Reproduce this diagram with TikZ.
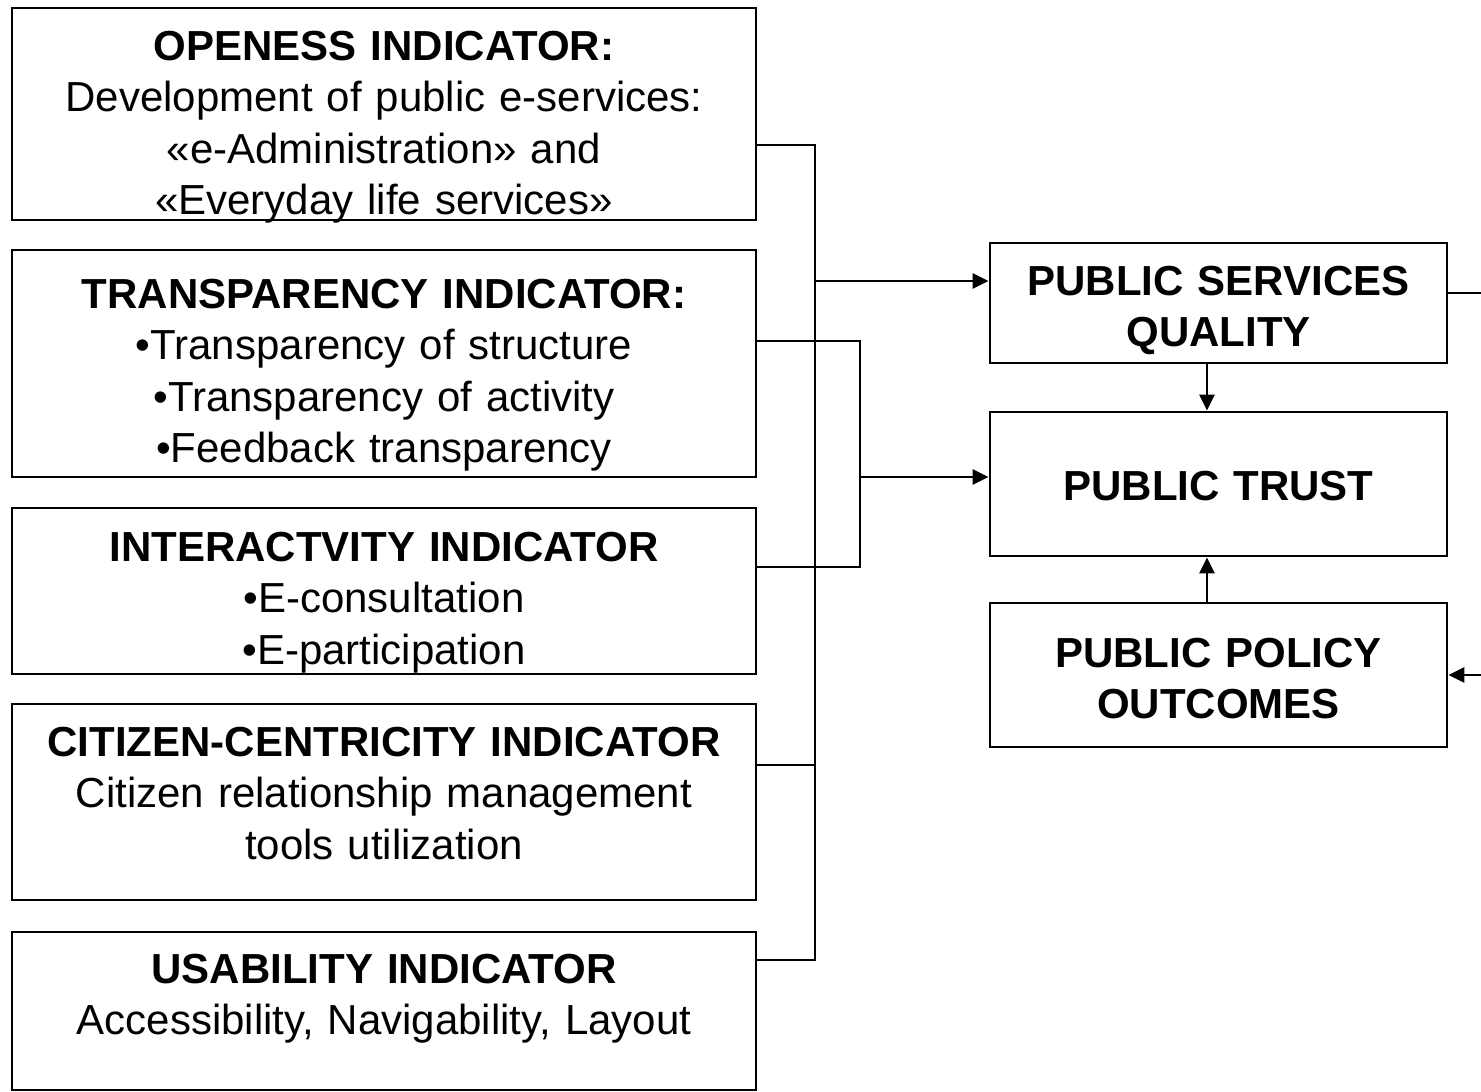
\documentclass[tikz,border=0pt]{standalone}
\usepackage{fontspec}
\setmainfont{Liberation Sans}
\usetikzlibrary{arrows.meta}
\begin{document}
\begin{tikzpicture}[x=1pt,y=-1pt,
  box/.style={draw,line width=2.8pt,inner sep=0pt},
  txt/.style={anchor=base,align=center,text width=740pt,inner sep=0pt,font=\fontsize{42}{51.5}\selectfont},
  rtxt/.style={anchor=base,align=center,text width=450pt,inner sep=0pt,font=\fontsize{42}{51}\selectfont\bfseries},
  wire/.style={line width=2.8pt},
  arr/.style={line width=2.8pt,-{Triangle[length=16pt,width=15pt]}}]
\useasboundingbox (0,0) rectangle (1481,1092);
% left boxes
\node[box,minimum width=744pt,minimum height=212pt] (b1) at (384,114) {};
\node[box,minimum width=744pt,minimum height=227pt] (b2) at (384,363.5) {};
\node[box,minimum width=744pt,minimum height=166pt] (b3) at (384,591) {};
\node[box,minimum width=744pt,minimum height=196pt] (b4) at (384,802) {};
\node[box,minimum width=744pt,minimum height=158pt] (b5) at (384,1011) {};
\node[txt] (t1) at (384,60) {\textbf{OPENESS INDICATOR:}\\Development of public e-services:\\«e-Administration» and\\«Everyday life services»};
\node[txt] (t2) at (384,308) {\textbf{TRANSPARENCY INDICATOR:}\\•Transparency of structure\\•Transparency of activity\\•Feedback transparency};
\node[txt] (t3) at (384,561) {\textbf{INTERACTVITY INDICATOR}\\•E-consultation\\•E-participation};
\node[txt] (t4) at (384,756) {\textbf{CITIZEN-CENTRICITY INDICATOR}\\Citizen relationship management\\tools utilization};
\node[txt] (t5) at (384,983) {\textbf{USABILITY INDICATOR}\\Accessibility, Navigability, Layout};
% right boxes
\node[box,minimum width=457pt,minimum height=120pt] (psq) at (1218.5,303) {};
\node[box,minimum width=457pt,minimum height=144pt] (pt) at (1218.5,484) {};
\node[box,minimum width=457pt,minimum height=144pt] (ppo) at (1218.5,675) {};
\node[rtxt] (t6) at (1218.5,295) {PUBLIC SERVICES\\QUALITY};
\node[rtxt] (t7) at (1218.5,500) {PUBLIC TRUST};
\node[rtxt] (t8) at (1218.5,667) {PUBLIC POLICY\\OUTCOMES};
% buses
\coordinate (bus1top) at (815,145);
\coordinate (bus1bot) at (815,960);
\coordinate (bus2top) at (860,341);
\coordinate (bus2bot) at (860,567);
\draw[wire] (b1.east |- bus1top) -- (bus1top) -- (bus1bot) -- (b5.east |- bus1bot);
\draw[wire] (815,765) -- (b4.east |- 0,765);
\draw[arr] (815,281) -- (psq.west |- 0,281);
\draw[wire] (b2.east |- bus2top) -- (bus2top) -- (bus2bot) -- (b3.east |- bus2bot);
\draw[arr] (860,477) -- (pt.west |- 0,477);
% right side
\draw[arr] (psq.south -| 1207,0) -- (pt.north -| 1207,0);
\draw[arr] (ppo.north -| 1207,0) -- (pt.south -| 1207,0);
\coordinate (r1) at (1481,293);
\coordinate (r2) at (1481,675);
\draw[wire] (psq.east |- r1) -- (r1);
\draw[arr] (r2) -- (ppo.east |- r2);
\end{tikzpicture}
\end{document}
